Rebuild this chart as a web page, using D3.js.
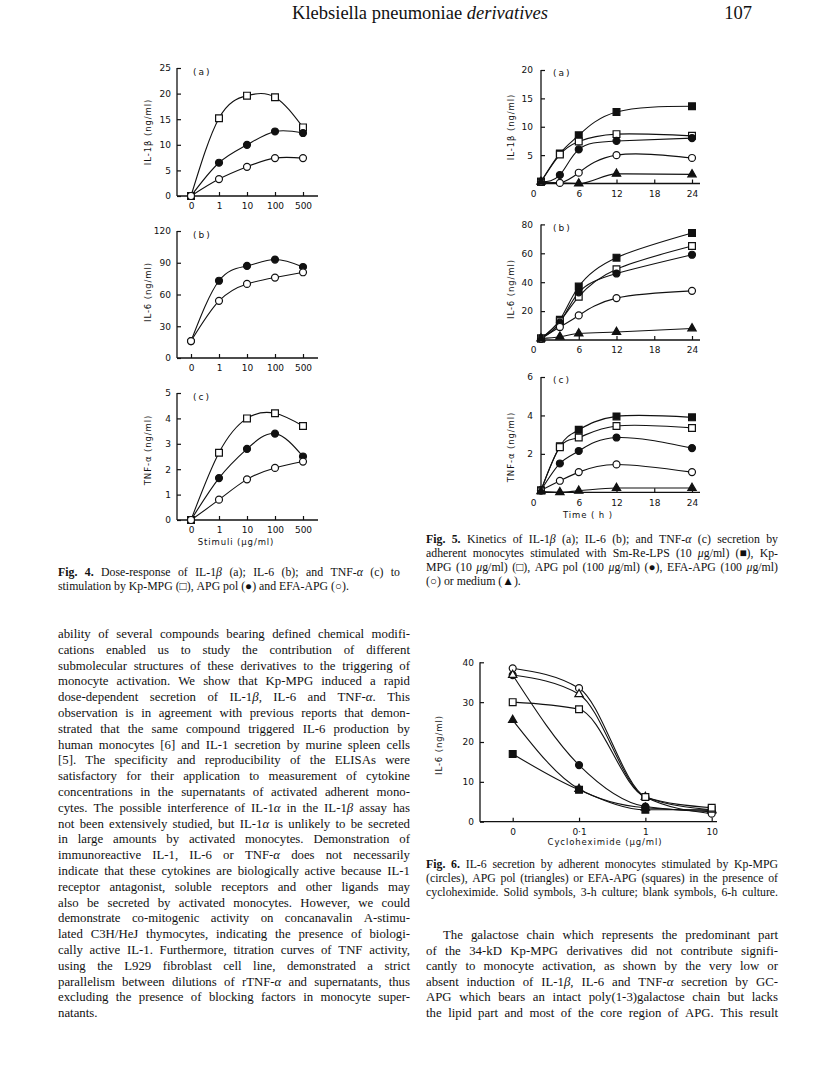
<!DOCTYPE html>
<html lang="en">
<head>
<meta charset="UTF-8">
<title>Klebsiella pneumoniae derivatives</title>
<script src="https://cdn.jsdelivr.net/npm/d3@7/dist/d3.min.js"></script>
<style>
    body{ margin:0; background:#fff; }
    .ax text{ font-family:"DejaVu Sans"; font-size:9px; fill:#111; }
    .ax line{ stroke:#111; stroke-width:1.2; }
    .axl{ stroke:#111; stroke-width:1.3; }
    .lab{ font-family:"DejaVu Sans"; font-size:8.5px; fill:#111; letter-spacing:0.9px; }
    .tag{ font-family:"DejaVu Sans"; font-size:9px; fill:#111; letter-spacing:2px; }
    .curve{ fill:none; stroke:#111; stroke-width:1.1; }
    .body{ font-family:"Liberation Serif"; font-size:12.8px; fill:#111; }
    .cap{ font-family:"Liberation Serif"; font-size:11.8px; fill:#111; }
    .head{ font-family:"Liberation Serif"; font-size:18.5px; fill:#111; }
</style>
</head>
<body>
<svg id="page" width="816" height="1075"></svg>
<script>
// ---- data ----
// Fig. 4: dose response (stimuli, ug/ml)
const doseCats = ['0', '1', '10', '100', '500'];
const f4aKpMPG  = [0, 15.2, 19.6, 19.3, 13.4];
const f4aAPGpol = [0, 6.5, 10.0, 12.6, 12.3];
const f4aEFA    = [0, 3.3, 5.7, 7.4, 7.4];
const f4bAPGpol = [16, 73, 87, 93, 86];
const f4bEFA    = [16, 54, 70, 76, 81];
const f4cKpMPG  = [0, 2.65, 4.0, 4.2, 3.7];
const f4cAPGpol = [0, 1.65, 2.8, 3.4, 2.5];
const f4cEFA    = [0, 0.8, 1.6, 2.05, 2.3];

// Fig. 5: kinetics (time, h)
const timeH = [0, 3, 6, 12, 24];
const f5aLPS    = [0.3, 5.3, 8.5, 12.6, 13.6];
const f5aKpMPG  = [0.3, 5.1, 7.4, 8.7, 8.4];
const f5aAPGpol = [0.3, 1.5, 6.0, 7.5, 8.0];
const f5aEFA    = [0.3, 0.1, 1.9, 5.0, 4.5];
const f5aMedium = [0.3, null, 0, 1.7, 1.6];
const f5bLPS    = [1, 14, 37, 57, 74];
const f5bKpMPG  = [1, 13, 30, 49, 65];
const f5bAPGpol = [1, 12, 33, 46, 59];
const f5bEFA    = [1, 9, 17, 29, 34];
const f5bMedium = [1, 2.3, 4.5, 5.5, 8];
const f5cLPS    = [0.1, 2.4, 3.25, 3.95, 3.9];
const f5cKpMPG  = [0.1, 2.35, 2.85, 3.45, 3.35];
const f5cAPGpol = [0.1, 1.5, 2.15, 2.85, 2.3];
const f5cEFA    = [0.1, 0.6, 1.05, 1.45, 1.05];
const f5cMedium = [0.05, 0, 0.08, 0.22, 0.22];

// Fig. 6: cycloheximide (ug/ml)
const chxCats = ['0', '0·1', '1', '10'];
const f6KpMPG6h  = [38.5, 33.5, 6.2, 2.0];
const f6APGpol6h = [36.8, 32.0, 6.2, 3.0];
const f6EFA6h    = [30.0, 28.2, 6.2, 3.5];
const f6KpMPG3h  = [36.8, 14.2, 3.8, 2.5];
const f6APGpol3h = [25.5, 8.2, 3.5, 2.8];
const f6EFA3h    = [17.0, 8.0, 3.0, 3.0];

// ---- text ----
const headTitle = ['Klebsiella pneumoniae ', 'derivatives'];
const pageNo = '107';
const cap4 = [
    '*Fig. 4.* Dose-response of IL-1β (a); IL-6 (b); and TNF-α (c) to',
    'stimulation by Kp-MPG (□), APG pol (●) and EFA-APG (○).'
];
const cap5 = [
    '*Fig. 5.* Kinetics of IL-1β (a); IL-6 (b); and TNF-α (c) secretion by',
    'adherent monocytes stimulated with Sm-Re-LPS (10 μg/ml) (■), Kp-',
    'MPG (10 μg/ml) (□), APG pol (100 μg/ml) (●), EFA-APG (100 μg/ml)',
    '(○) or medium (▲).'
];
const cap6 = [
    '*Fig. 6.* IL-6 secretion by adherent monocytes stimulated by Kp-MPG',
    '(circles), APG pol (triangles) or EFA-APG (squares) in the presence of',
    'cycloheximide. Solid symbols, 3-h culture; blank symbols, 6-h culture.'
];
const bodyLeft = [
    'ability of several compounds bearing defined chemical modifi-',
    'cations enabled us to study the contribution of different',
    'submolecular structures of these derivatives to the triggering of',
    'monocyte activation. We show that Kp-MPG induced a rapid',
    'dose-dependent secretion of IL-1β, IL-6 and TNF-α. This',
    'observation is in agreement with previous reports that demon-',
    'strated that the same compound triggered IL-6 production by',
    'human monocytes [6] and IL-1 secretion by murine spleen cells',
    '[5]. The specificity and reproducibility of the ELISAs were',
    'satisfactory for their application to measurement of cytokine',
    'concentrations in the supernatants of activated adherent mono-',
    'cytes. The possible interference of IL-1α in the IL-1β assay has',
    'not been extensively studied, but IL-1α is unlikely to be secreted',
    'in large amounts by activated monocytes. Demonstration of',
    'immunoreactive IL-1, IL-6 or TNF-α does not necessarily',
    'indicate that these cytokines are biologically active because IL-1',
    'receptor antagonist, soluble receptors and other ligands may',
    'also be secreted by activated monocytes. However, we could',
    'demonstrate co-mitogenic activity on concanavalin A-stimu-',
    'lated C3H/HeJ thymocytes, indicating the presence of biologi-',
    'cally active IL-1. Furthermore, titration curves of TNF activity,',
    'using the L929 fibroblast cell line, demonstrated a strict',
    'parallelism between dilutions of rTNF-α and supernatants, thus',
    'excluding the presence of blocking factors in monocyte super-',
    'natants.'
];
const bodyRight = [
    'The galactose chain which represents the predominant part',
    'of the 34-kD Kp-MPG derivatives did not contribute signifi-',
    'cantly to monocyte activation, as shown by the very low or',
    'absent induction of IL-1β, IL-6 and TNF-α secretion by GC-',
    'APG which bears an intact poly(1-3)galactose chain but lacks',
    'the lipid part and most of the core region of APG. This result'
];

const svg = d3.select('#page');
svg.append('rect').attr('width', 816).attr('height', 1075).attr('fill', '#fff');

const markers = {
    sq:   {type: d3.symbolSquare,   size: 46, fill: '#fff'},
    sqf:  {type: d3.symbolSquare,   size: 46, fill: '#111'},
    ci:   {type: d3.symbolCircle,   size: 38, fill: '#fff'},
    cif:  {type: d3.symbolCircle,   size: 38, fill: '#111'},
    tri:  {type: d3.symbolTriangle, size: 30, fill: '#fff'},
    trif: {type: d3.symbolTriangle, size: 30, fill: '#111'}
};

// one panel: axes, labels, curves and markers
function panel(p) {
    let g = svg.append('g');
    let bottom = p.y.range()[0], top = p.y.range()[1];

    let yAx = d3.axisLeft(p.y).tickValues(p.yTicks).tickSize(-4)
        .tickPadding(p.yPad || 6).tickFormat(d3.format('~g'));
    g.append('g').attr('class', 'ax').attr('transform', `translate(${p.x0},0)`)
        .call(yAx).call(s => s.select('.domain').remove());

    let xAx = d3.axisBottom(p.x).tickValues(p.xTicks).tickSize(-4).tickPadding(p.xPad || 7);
    let xg = g.append('g').attr('class', 'ax').attr('transform', `translate(0,${bottom})`)
        .call(xAx).call(s => s.select('.domain').remove());
    if (p.zeroShift) {
        xg.selectAll('.tick').filter(d => d === 0)
            .call(t => t.select('line').remove())
            .select('text').attr('dx', p.zeroShift);
    }

    g.append('line').attr('class', 'axl')
        .attr('x1', p.x0).attr('x2', p.x0).attr('y1', bottom).attr('y2', top);
    g.append('line').attr('class', 'axl')
        .attr('x1', p.x0).attr('x2', p.xEnd).attr('y1', bottom).attr('y2', bottom);

    g.append('text').attr('class', 'lab').attr('text-anchor', 'middle')
        .attr('transform', `translate(${p.yLabX},${p.yLabY}) rotate(-90)`)
        .text(p.yLabel);
    if (p.tag) {
        g.append('text').attr('class', 'tag').attr('x', p.tag[0]).attr('y', p.tag[1]).text(p.tag[2]);
    }
    if (p.xLabel) {
        g.append('text').attr('class', 'lab').attr('text-anchor', 'middle')
            .attr('x', p.xLabel[0]).attr('y', p.xLabel[1]).text(p.xLabel[2]);
    }

    p.series.forEach(s => {
        let pts = p.xs.map((d, i) => [d, s.ys[i]]).filter(d => d[1] != null);
        let line = d3.line()
            .x(d => p.x(d[0]))
            .y(d => p.y(d[1]))
            .curve(s.curve || p.curve);
        g.append('path').attr('class', 'curve').attr('d', line(pts));
    });
    p.series.forEach(s => {
        let m = markers[s.m];
        let pts = p.xs.map((d, i) => [d, s.ys[i]]).filter(d => d[1] != null);
        g.selectAll(null).data(pts).enter().append('path')
            .attr('d', d3.symbol().type(m.type).size(m.size))
            .attr('transform', d => `translate(${p.x(d[0])},${p.y(d[1])})`)
            .attr('fill', m.fill).attr('stroke', '#111').attr('stroke-width', 1.2);
    });
}

// ---- Fig. 4 ----
let doseX = d3.scalePoint().domain(doseCats).range([191, 303]);
panel({x: doseX, y: d3.scaleLinear().domain([0, 25]).range([196, 68]),
    xs: doseCats, xTicks: doseCats, yTicks: [0, 5, 10, 15, 20, 25],
    x0: 177, xEnd: 318, yLabel: 'IL-1β (ng/ml)', yLabX: 151, yLabY: 132,
    tag: [193, 75, '(a)'], curve: d3.curveNatural,
    series: [{ys: f4aKpMPG, m: 'sq'}, {ys: f4aAPGpol, m: 'cif'}, {ys: f4aEFA, m: 'ci'}]});
panel({x: doseX, y: d3.scaleLinear().domain([0, 120]).range([358, 231]),
    xs: doseCats, xTicks: doseCats, yTicks: [0, 30, 60, 90, 120],
    x0: 177, xEnd: 318, yLabel: 'IL-6 (ng/ml)', yLabX: 151, yLabY: 292,
    tag: [193, 238, '(b)'], curve: d3.curveNatural,
    series: [{ys: f4bAPGpol, m: 'cif'}, {ys: f4bEFA, m: 'ci'}]});
panel({x: doseX, y: d3.scaleLinear().domain([0, 5]).range([520, 393]),
    xs: doseCats, xTicks: doseCats, yTicks: [0, 1, 2, 3, 4, 5],
    x0: 177, xEnd: 318, yLabel: 'TNF-α (ng/ml)', yLabX: 151, yLabY: 450,
    tag: [193, 400, '(c)'], curve: d3.curveNatural, xLabel: [236, 545, 'Stimuli (μg/ml)'],
    series: [{ys: f4cKpMPG, m: 'sq'}, {ys: f4cAPGpol, m: 'cif'}, {ys: f4cEFA, m: 'ci'}]});

// ---- Fig. 5 ----
let timeX = d3.scaleLinear().domain([0, 24]).range([541, 692]);
let f5ser = (lps, kp, apg, efa, med) => [
    {ys: lps, m: 'sqf'}, {ys: kp, m: 'sq'}, {ys: apg, m: 'cif'}, {ys: efa, m: 'ci'},
    {ys: med, m: 'trif', curve: d3.curveMonotoneX}];
panel({x: timeX, y: d3.scaleLinear().domain([0, 20]).range([183.5, 70]),
    xs: timeH, xTicks: [0, 6, 12, 18, 24], yTicks: [5, 10, 15, 20], zeroShift: -8, yPad: 8,
    x0: 541, xEnd: 700, yLabel: 'IL-1β (ng/ml)', yLabX: 514, yLabY: 127,
    tag: [553, 76, '(a)'], curve: d3.curveNatural,
    series: f5ser(f5aLPS, f5aKpMPG, f5aAPGpol, f5aEFA, f5aMedium)});
panel({x: timeX, y: d3.scaleLinear().domain([0, 80]).range([340, 224.4]),
    xs: timeH, xTicks: [0, 6, 12, 18, 24], yTicks: [20, 40, 60, 80], zeroShift: -8, yPad: 8,
    x0: 541, xEnd: 700, yLabel: 'IL-6 (ng/ml)', yLabX: 514, yLabY: 289,
    tag: [553, 231, '(b)'], curve: d3.curveNatural,
    series: f5ser(f5bLPS, f5bKpMPG, f5bAPGpol, f5bEFA, f5bMedium)});
panel({x: timeX, y: d3.scaleLinear().domain([0, 6]).range([492.3, 377]),
    xs: timeH, xTicks: [0, 6, 12, 18, 24], yTicks: [2, 4, 6], zeroShift: -8, yPad: 8,
    x0: 541, xEnd: 700, yLabel: 'TNF-α (ng/ml)', yLabX: 514, yLabY: 447,
    tag: [553, 383, '(c)'], curve: d3.curveNatural, xLabel: [588, 518, 'Time ( h )'],
    series: f5ser(f5cLPS, f5cKpMPG, f5cAPGpol, f5cEFA, f5cMedium)});

// ---- Fig. 6 ----
panel({x: d3.scalePoint().domain(chxCats).range([512.7, 711.7]),
    y: d3.scaleLinear().domain([0, 40]).range([821.7, 662.3]),
    xs: chxCats, xTicks: chxCats, yTicks: [0, 10, 20, 30, 40],
    x0: 480, xEnd: 717, yLabel: 'IL-6 (ng/ml)', yLabX: 442, yLabY: 745,
    curve: d3.curveMonotoneX, xLabel: [605, 845, 'Cycloheximide (μg/ml)'],
    series: [{ys: f6KpMPG3h, m: 'cif'}, {ys: f6APGpol3h, m: 'trif'}, {ys: f6EFA3h, m: 'sqf'},
             {ys: f6KpMPG6h, m: 'ci'}, {ys: f6APGpol6h, m: 'tri'}, {ys: f6EFA6h, m: 'sq'}]});

// ---- text blocks (word-justified) ----
function para(lines, x, y0, lh, width, cls, fs, opts) {
    opts = opts || {};
    lines.forEach((line, li) => {
        let t = svg.append('text').attr('class', cls).attr('y', y0 + li * lh);
        let indent = (opts.indent && li === 0) ? opts.indent : 0;
        let bold = false;
        let words = line.split(' ');
        let spans = words.map(w => {
            let ws = t.append('tspan');
            let txt = w, b = bold;
            if (txt.startsWith('*')) { txt = txt.slice(1); b = true; bold = true; }
            if (txt.endsWith('*')) { txt = txt.slice(0, -1); bold = false; }
            if (b) ws.attr('font-weight', 'bold');
            txt.split(/([αβμ])/).filter(s => s).forEach(s => {
                let ss = ws.append('tspan').text(s);
                if (/[αβμ]/.test(s)) ss.attr('font-style', 'italic');
            });
            return ws;
        });
        let avail = width - indent;
        let widths = spans.map(s => s.node().getComputedTextLength());
        let minGap = fs * 0.2;
        let need = d3.sum(widths) + minGap * (words.length - 1);
        if (need > avail) {
            // line too long for the column at this size: shrink it a little
            t.attr('font-size', fs * avail / need);
            widths = spans.map(s => s.node().getComputedTextLength());
        }
        let free = opts.lastFree && li === lines.length - 1;
        let gap = (!free && words.length > 1)
            ? (avail - d3.sum(widths)) / (words.length - 1)
            : fs * 0.25;
        let cx = x + indent;
        spans.forEach((s, i) => { s.attr('x', cx); cx += widths[i] + gap; });
    });
}

// running head
let ht = svg.append('text').attr('class', 'head').attr('x', 420).attr('y', 19).attr('text-anchor', 'middle');
ht.append('tspan').text(headTitle[0]);
ht.append('tspan').attr('font-style', 'italic').text(headTitle[1]);
svg.append('text').attr('class', 'head').attr('x', 752).attr('y', 19).attr('text-anchor', 'end').text(pageNo);

para(cap4, 58, 576, 14, 342, 'cap', 11.8, {lastFree: true});
para(cap5, 426, 543, 14, 352, 'cap', 11.8, {lastFree: true});
para(cap6, 426, 868, 14, 352, 'cap', 11.8);
para(bodyLeft, 58, 638, 15.8, 352, 'body', 12.8, {lastFree: true});
para(bodyRight, 426, 939, 15.5, 352, 'body', 12.8, {indent: 17});
</script>
</body>
</html>
